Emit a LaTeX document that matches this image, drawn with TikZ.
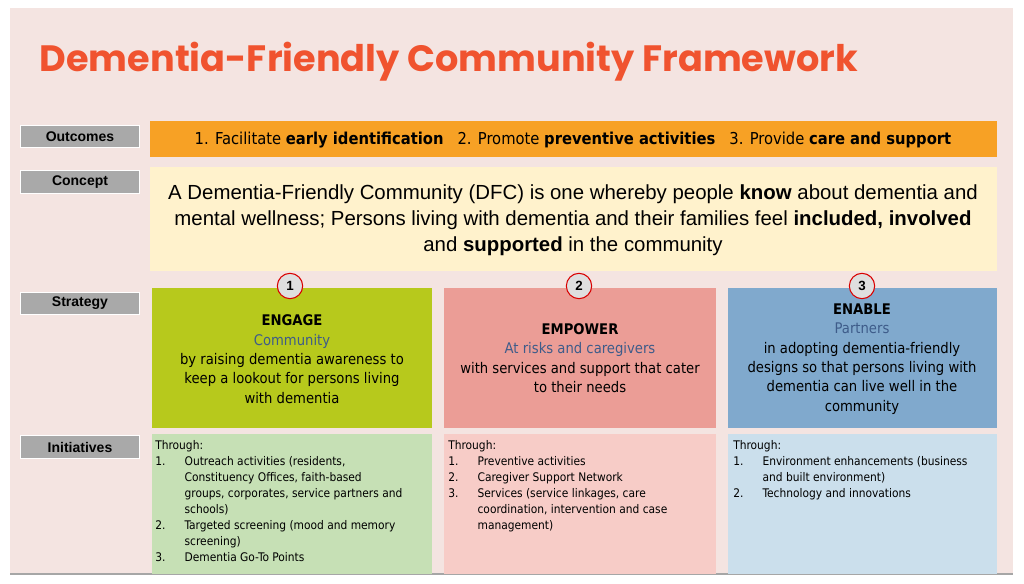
\documentclass[tikz,border=0pt]{standalone}
\usepackage{fontspec}
\setmainfont{Open Sans}
\newfontfamily\titlefont{Poppins}
\newfontfamily\arialf{Liberation Sans}
\newfontfamily\bodyf{DejaVu Sans Condensed}
\definecolor{bgp}{HTML}{F4E4E1}
\definecolor{lab}{HTML}{A9A9A9}
\definecolor{orng}{HTML}{F7A125}
\definecolor{cream}{HTML}{FFF2CC}
\definecolor{sg}{HTML}{B7C91C}
\definecolor{sp}{HTML}{EB9D96}
\definecolor{sb}{HTML}{80A9CD}
\definecolor{ig}{HTML}{C6E0B5}
\definecolor{ip}{HTML}{F7CCC7}
\definecolor{ib}{HTML}{CBDFEC}
\definecolor{ttl}{HTML}{F0532F}
\definecolor{partc}{HTML}{3E5C8A}
\begin{document}
\begin{tikzpicture}[x=0.75pt,y=-0.75pt,
  lab/.style={fill=lab,draw=white,line width=0.6pt,minimum width=89pt,minimum height=17pt,inner sep=0pt,font=\arialf\bfseries\fontsize{10.5}{12}\selectfont},
  strat/.style={align=center,font=\bodyf\fontsize{11}{14.5}\selectfont},
  init/.style={anchor=north west,align=left,font=\bodyf\fontsize{8.9}{12}\selectfont,inner sep=0pt},
  num/.style={circle,fill=gray!25,draw=red!85!black,line width=0.8pt,minimum size=19pt,inner sep=0pt,font=\arialf\bfseries\fontsize{10}{12}\selectfont}]
\fill[white] (0,0) rectangle (1024,584);
\fill[bgp] (10,8) rectangle (1013,574);
\draw[gray!70,line width=1pt] (10,574) -- (1013,574);
\node[anchor=west,text=ttl,font=\titlefont\bfseries\fontsize{27.5}{32}\selectfont] (title) at (35,62) {Dementia-Friendly Community Framework};
\node[lab] (lo) at (80,136.5) {Outcomes};
\node[lab] (lc) at (80,182) {Concept};
\node[lab] (ls) at (80,303.5) {Strategy};
\node[lab] (li) at (80,447) {Initiatives};
\fill[orng] (150,121) rectangle (997,157);
\node[font=\bodyf\fontsize{12.3}{14}\selectfont] (out) at (573,140) {1. Facilitate \textbf{early identification}\ \ \ 2. Promote \textbf{preventive activities}\ \ \ 3. Provide \textbf{care and support}};
\fill[cream] (150,167) rectangle (997,271);
\node[align=center,font=\arialf\fontsize{15.3}{19.5}\selectfont] (con) at (573,220) {A Dementia-Friendly Community (DFC) is one whereby people \textbf{know} about dementia and\\ mental wellness; Persons living with dementia and their families feel \textbf{included, involved}\\ and \textbf{supported} in the community};
\fill[sg] (152,288) rectangle (432,428);
\fill[sp] (444,288) rectangle (716,428);
\fill[sb] (728,288) rectangle (997,428);
\node[strat] (s1) at (292,359) {\textbf{ENGAGE}\\ \textcolor{partc}{Community}\\ by raising dementia awareness to\\ keep a lookout for persons living\\ with dementia};
\node[strat] (s2) at (580,358) {\textbf{EMPOWER}\\ \textcolor{partc}{At risks and caregivers}\\ with services and support that cater\\ to their needs};
\node[strat] (s3) at (862,359) {\textbf{ENABLE}\\ \textcolor{partc}{Partners}\\ in adopting dementia-friendly\\ designs so that persons living with\\ dementia can live well in the\\ community};
\node[num] (n1) at (290,286) {1};
\node[num] (n2) at (579,286) {2};
\node[num] (n3) at (862,286) {3};
\fill[ig] (152,434) rectangle (432,574);
\fill[ip] (444,434) rectangle (716,574);
\fill[ib] (728,434) rectangle (997,574);
\node[init] (i1) at (155,440) {Through:\\
\makebox[22pt][l]{1.}Outreach activities (residents,\\
\hspace*{22pt}Constituency Offices, faith-based\\
\hspace*{22pt}groups, corporates, service partners and\\
\hspace*{22pt}schools)\\
\makebox[22pt][l]{2.}Targeted screening (mood and memory\\
\hspace*{22pt}screening)\\
\makebox[22pt][l]{3.}Dementia Go-To Points};
\node[init] (i2) at (448,440) {Through:\\
\makebox[22pt][l]{1.}Preventive activities\\
\makebox[22pt][l]{2.}Caregiver Support Network\\
\makebox[22pt][l]{3.}Services (service linkages, care\\
\hspace*{22pt}coordination, intervention and case\\
\hspace*{22pt}management)};
\node[init] (i3) at (733,440) {Through:\\
\makebox[22pt][l]{1.}Environment enhancements (business\\
\hspace*{22pt}and built environment)\\
\makebox[22pt][l]{2.}Technology and innovations};
\end{tikzpicture}
\end{document}
